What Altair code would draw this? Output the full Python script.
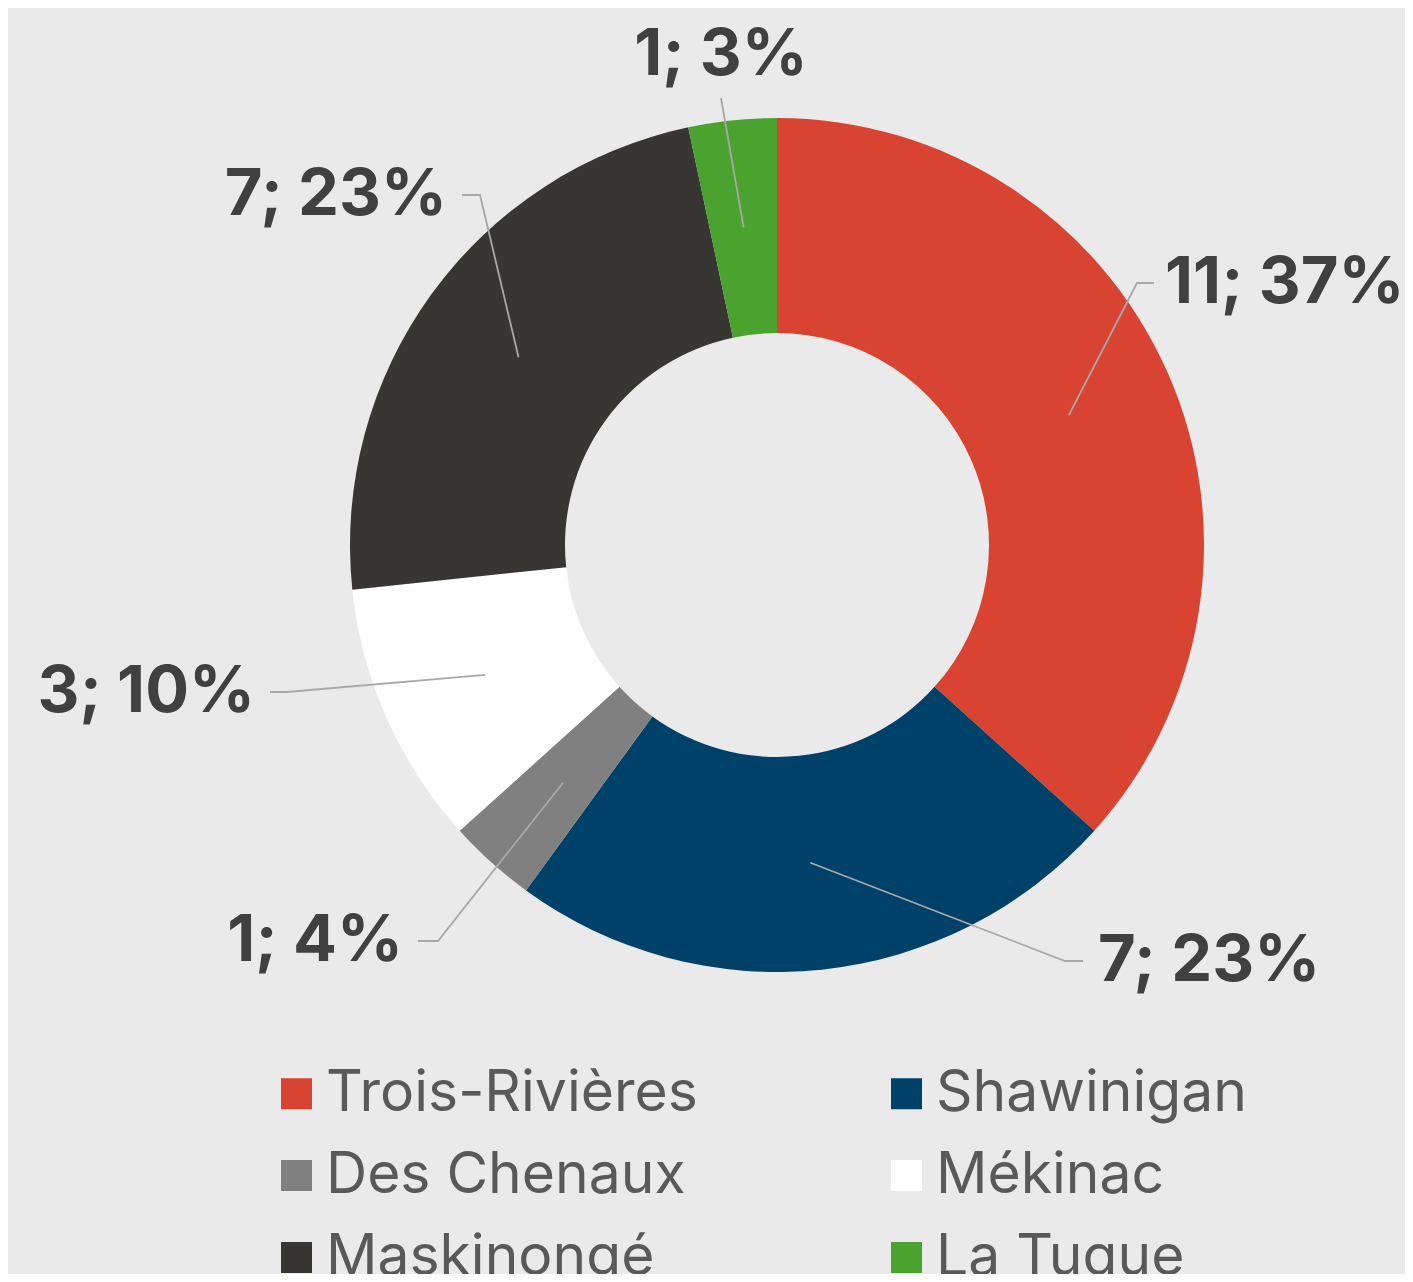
import math
import altair as alt
import pandas as pd

# ---------------- data ----------------
CATEGORIES = ["Trois-Rivières", "Shawinigan", "Des Chenaux", "Mékinac", "Maskinongé", "La Tuque"]
VALUES = [11, 7, 1, 3, 7, 1]
LABELS = ["11; 37%", "7; 23%", "1; 4%", "3; 10%", "7; 23%", "1; 3%"]
COLORS = ["#D84431", "#00416A", "#808080", "#FFFFFF", "#383632", "#4BA32F"]

# ---------------- layout (pixels) ----------------
W, H = 1397, 1266
CX, CY = 769, 537
R_OUT, R_IN = 427, 212
# leader-line elbow relative to centre, horizontal tail length, label side
ELBOW = [(360, -262), (288, 416), (-339, 396), (-490, 147), (-297, -350), (-56, -447)]
TAIL = [17, 18, -20, -17, -18, 0]
GAPS = [11, 15, 15, 15, 15, 0]
SIDE = ["left", "left", "right", "right", "right", "center"]
BG = "#EAEAEA"

total = sum(VALUES)
cum = 0.0
line_rows, label_rows = [], []
r_mid = (R_OUT + R_IN) / 2
for i, (cat, v) in enumerate(zip(CATEGORIES, VALUES)):
    mid = 2 * math.pi * (cum + v / 2) / total
    cum += v
    sx, sy = CX + r_mid * math.sin(mid), CY - r_mid * math.cos(mid)
    ex, ey = CX + ELBOW[i][0], CY + ELBOW[i][1]
    tx, ty = ex + TAIL[i], ey
    for k, (px, py) in enumerate([(sx, sy), (ex, ey), (tx, ty)]):
        line_rows.append({"cat": cat, "k": k, "px": px, "py": py})
    if SIDE[i] == "left":
        lx, ly = tx + GAPS[i], ty
    elif SIDE[i] == "right":
        lx, ly = tx - GAPS[i], ty
    else:
        lx, ly = tx, ty - 43
    label_rows.append({"cat": cat, "label": LABELS[i], "side": SIDE[i], "lx": lx, "ly": ly})

df = pd.DataFrame({"cat": CATEGORIES, "value": VALUES, "idx": list(range(len(VALUES)))})
lines_df = pd.DataFrame(line_rows)
labels_df = pd.DataFrame(label_rows)

arcs = alt.Chart(df).mark_arc(innerRadius=R_IN, outerRadius=R_OUT, strokeWidth=0).encode(
    theta=alt.Theta("value:Q", stack=True),
    order=alt.Order("idx:Q", sort="ascending"),
    color=alt.Color(
        "cat:N",
        scale=alt.Scale(domain=CATEGORIES, range=COLORS),
        legend=alt.Legend(
            orient="none", legendX=260, legendY=1057, columns=2, direction="horizontal",
            symbolType="square", symbolSize=961, symbolStrokeWidth=0,
            labelFontSize=57, labelFont="Inter", labelColor="#595959",
            labelOffset=1, rowPadding=24, columnPadding=180, padding=0,
            title=None, labelLimit=0,
        ),
    ),
    x=alt.value(CX),
    y=alt.value(CY),
)

lines = alt.Chart(lines_df).mark_line(color="#A8A8A8", strokeWidth=1.8).encode(
    x=alt.X("px:Q", scale=None, axis=None),
    y=alt.Y("py:Q", scale=None, axis=None),
    detail="cat:N",
    order="k:Q",
)

def text_layer(side, align):
    return alt.Chart(labels_df).transform_filter(
        alt.datum.side == side
    ).mark_text(
        align=align, baseline="middle", font="Inter", fontWeight="bold",
        fontSize=65, color="#404040",
    ).encode(
        x=alt.X("lx:Q", scale=None, axis=None),
        y=alt.Y("ly:Q", scale=None, axis=None),
        text="label:N",
    )

chart = alt.layer(
    arcs, lines,
    text_layer("left", "left"), text_layer("right", "right"), text_layer("center", "center"),
).properties(
    width=W, height=H, background=BG, padding=0, autosize="none",
).configure_view(stroke=None)

chart.save("out.html", embed_options={"renderer": "svg", "actions": False})
